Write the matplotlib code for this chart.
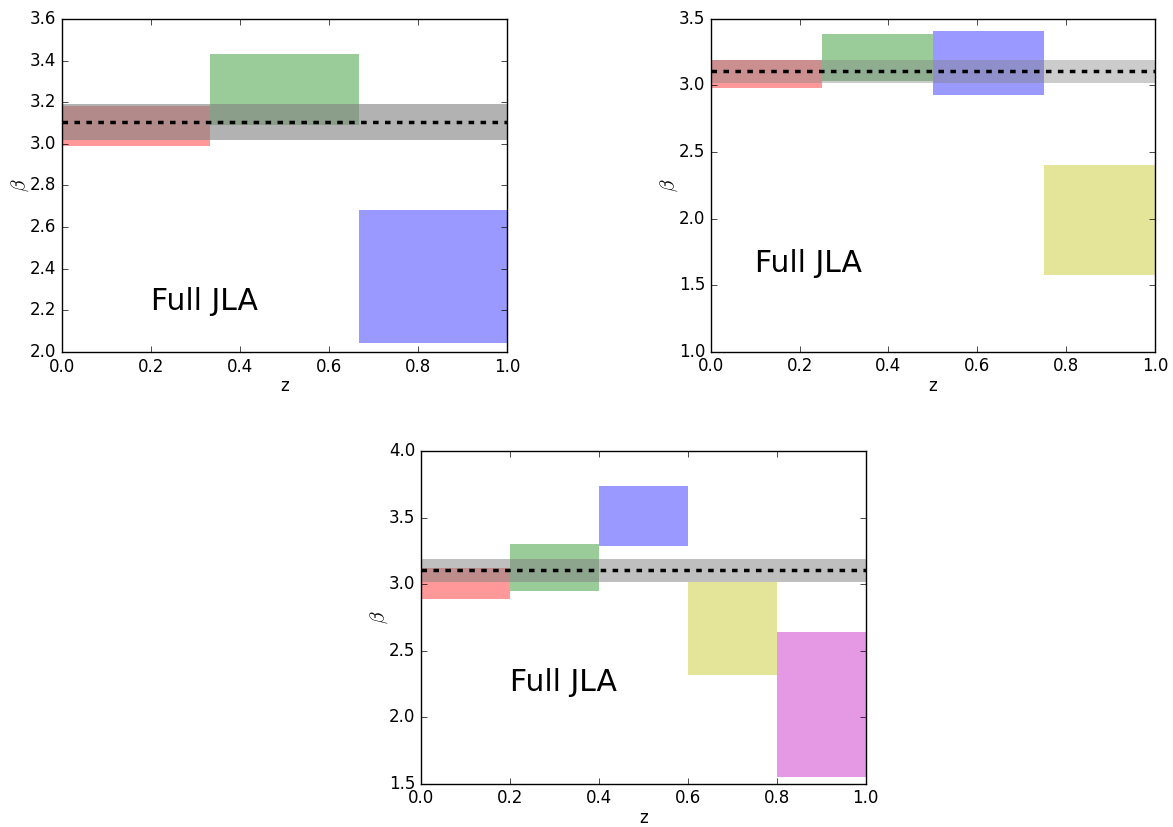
import numpy as np
import matplotlib
matplotlib.use('Agg')
import matplotlib.pyplot as plt

plt.style.use('classic')
plt.rcParams['lines.scale_dashes'] = False

# beta fits in redshift bins (lower / upper edge of each box)
edges_3 = [0.0, 0.333, 0.667, 1.0]
lo_3 = [2.99, 3.09, 2.045]
hi_3 = [3.18, 3.43, 2.68]

edges_4 = [0.0, 0.25, 0.5, 0.75, 1.0]
lo_4 = [2.98, 3.03, 2.93, 1.575]
hi_4 = [3.19, 3.39, 3.41, 2.40]

edges_5 = [0.0, 0.2, 0.4, 0.6, 0.8, 1.0]
lo_5 = [2.89, 2.95, 3.285, 2.32, 1.55]
hi_5 = [3.12, 3.30, 3.74, 3.02, 2.64]

# full sample fit
beta_full = 3.105
beta_full_lo = 3.02
beta_full_hi = 3.19

colors = ['r', 'g', 'b', 'y', 'm']

fig = plt.figure(figsize=(11.73, 8.27), dpi=100, facecolor='white')
ax1 = fig.add_axes([0.0529, 0.5744, 0.3794, 0.4027])
ax2 = fig.add_axes([0.6059, 0.5747, 0.3788, 0.4025])
ax3 = fig.add_axes([0.3589, 0.0524, 0.3791, 0.4019])

panels = [
    (ax1, edges_3, lo_3, hi_3, (2.0, 3.6), np.arange(2.0, 3.61, 0.2), 0.6, (0.2, 2.2)),
    (ax2, edges_4, lo_4, hi_4, (1.0, 3.5), np.arange(1.0, 3.51, 0.5), 0.4, (0.1, 1.6)),
    (ax3, edges_5, lo_5, hi_5, (1.5, 4.0), np.arange(1.5, 4.01, 0.5), 0.5, (0.2, 2.2)),
]

for ax, edges, lo, hi, ylim, yticks, band_alpha, txt in panels:
    for i in range(len(lo)):
        ax.fill_between([edges[i], edges[i + 1]], lo[i], hi[i],
                        color=colors[i], alpha=0.4, linewidth=0)
    ax.fill_between([0, 1], beta_full_lo, beta_full_hi,
                    color='0.5', alpha=band_alpha, linewidth=0)
    ax.plot([0, 1], [beta_full, beta_full], color='k', lw=2.5,
            linestyle=(0, (4.0, 4.6)))
    ax.text(txt[0], txt[1], 'Full JLA', fontsize=21.5)
    ax.set_xlim(0, 1)
    ax.set_ylim(*ylim)
    ax.set_yticks(yticks)
    ax.set_xticks(np.arange(0, 1.01, 0.2))
    ax.set_xlabel('z', labelpad=1)
    ax.set_ylabel(r'$\beta$', fontsize=14, labelpad=-1)

fig.savefig('out.png', dpi=100, facecolor='white')
